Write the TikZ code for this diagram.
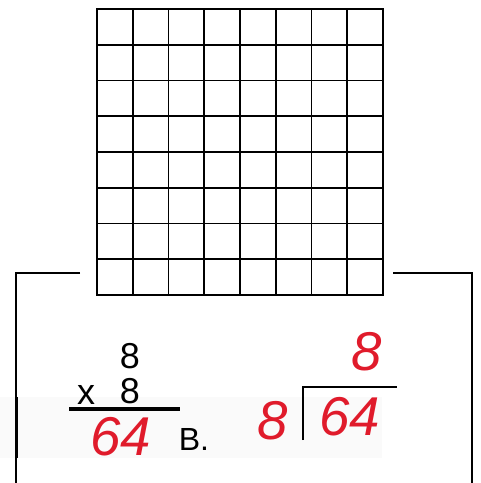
\documentclass[tikz,border=0pt]{standalone}
\usepackage{fontspec}
\setmainfont{Liberation Sans}
\usepackage{xcolor}
\definecolor{penred}{HTML}{E01B2B}

\begin{document}
\begin{tikzpicture}[x=0.75pt,y=-0.75pt,
  printed/.style={inner sep=0pt, font=\fontsize{27}{27}\selectfont},
  penmark/.style={inner sep=0pt, text=penred, font=\fontsize{41}{41}\selectfont\itshape}]
  \useasboundingbox (0,0) rectangle (480,483);
  \fill[black!2] (0,397) rectangle (382,458); % scan band
  % 8 by 8 grid
  \foreach \i in {1,...,7} {
    \draw[line width=1.2pt] (97+\i*35.75,9) -- (97+\i*35.75,295);
    \draw[line width=1.2pt] (97,9+\i*35.75) -- (383,9+\i*35.75);
  }
  \draw[line width=2pt] (97,9) rectangle (383,295); % outer square
  % frame round the work
  \draw[line width=1.2pt] (80,273) -- (16,273) -- (16,483); % left
  \draw[line width=2.2pt] (16.5,397) -- (16.5,458); % darker bit in the band
  \draw[line width=1.2pt] (393,273) -- (472,273) -- (472,483); % right
  % multiplication
  \node[printed] (top8) at (130,356) {8};
  \node[printed] (low8) at (130,391) {8};
  \node[printed] (times) at (86,395) {x};
  \draw[line width=2.4pt] (69,409) -- (180,409);
  \node[penmark] (prod) at (121,437) {64};
  \node[printed, font=\fontsize{24}{24}\selectfont] (lblB) at (194,439) {B.};
  % division
  \node[penmark] (divisor) at (273,421) {8};
  \node[penmark] (dividend) at (350,417) {64};
  \node[penmark] (quot) at (367,352) {8};
  \draw[line width=1.6pt] (303,440) -- (303,387) -- (397,387);
\end{tikzpicture}
\end{document}
